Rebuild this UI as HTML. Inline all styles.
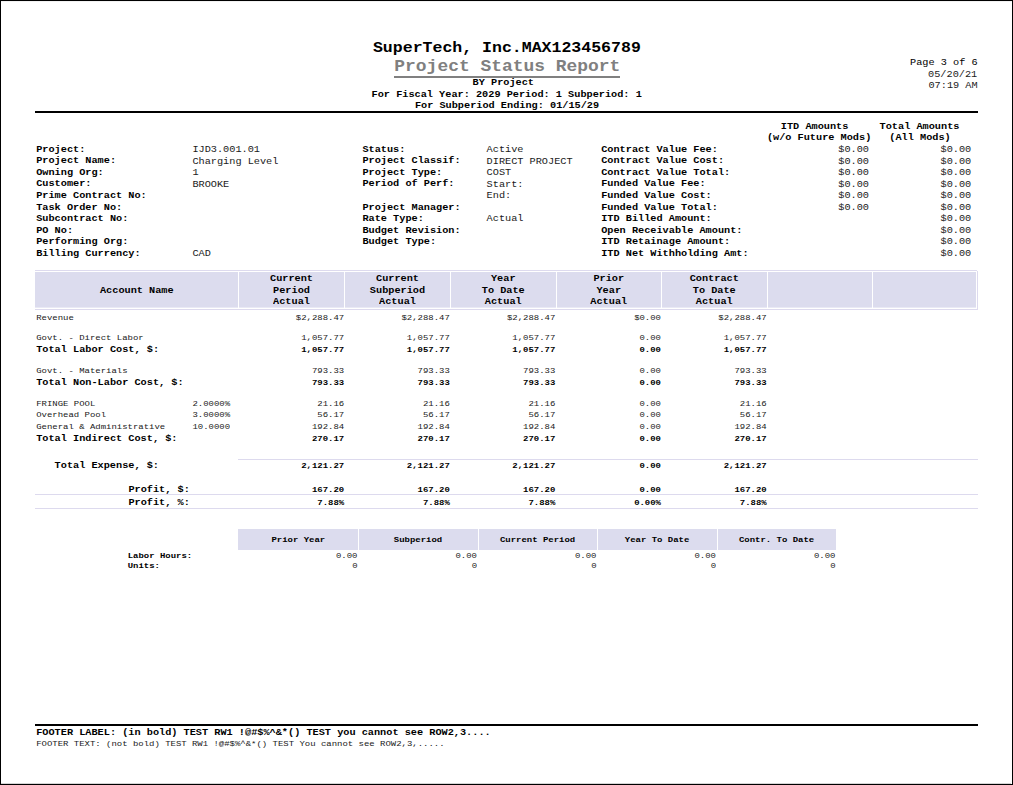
<!DOCTYPE html>
<html><head><meta charset="utf-8"><title>Project Status Report</title>
<style>
html,body{margin:0;padding:0;background:#fff;}
body{width:1013px;height:785px;position:relative;overflow:hidden;font-family:"Liberation Mono",monospace;color:#000;}
#frame{position:absolute;left:0;top:0;width:1011px;height:783px;border:1px solid #000;}
.t{position:absolute;white-space:pre;line-height:12px;height:12px;transform:scaleY(0.87);}
.b{position:absolute;}
</style></head><body>
<div id="frame"></div>
<div class="b" style="left:1px;top:1px;width:1011px;height:1px;background:#f2f2f2"></div>
<div class="b" style="left:1px;top:783px;width:1010px;height:1px;background:#d4d4d4"></div>
<div class="t" style="top:42px;font-size:16.55px;transform-origin:50% 10px;font-weight:bold;left:306.90px;width:400px;text-align:center;">SuperTech, Inc.MAX123456789</div>
<div class="t" style="top:60px;font-size:17.93px;transform-origin:50% 11px;font-weight:bold;color:#808080;left:307.30px;width:400px;text-align:center;">Project Status Report</div>
<div class="b" style="left:394px;top:76px;width:226px;height:2px;background:#808080"></div>
<div class="t" style="top:76px;font-size:10.24px;transform-origin:50% 9px;font-weight:bold;left:303.30px;width:400px;text-align:center;">BY Project</div>
<div class="t" style="top:88px;font-size:10.24px;transform-origin:50% 9px;font-weight:bold;left:306.70px;width:400px;text-align:center;">For Fiscal Year: 2029 Period: 1 Subperiod: 1</div>
<div class="t" style="top:99px;font-size:10.24px;transform-origin:50% 9px;font-weight:bold;left:307.00px;width:400px;text-align:center;">For Subperiod Ending: 01/15/29</div>
<div class="t" style="top:56px;font-size:10.24px;transform-origin:50% 9px;color:#000;right:35.40px;">Page 3 of 6</div>
<div class="t" style="top:68px;font-size:10.24px;transform-origin:50% 9px;color:#1a1a1a;right:35.80px;">05/20/21</div>
<div class="t" style="top:79px;font-size:10.24px;transform-origin:50% 9px;color:#1a1a1a;right:35.40px;">07:19 AM</div>
<div class="b" style="left:35px;top:111px;width:943px;height:2px;background:#000"></div>
<div class="b" style="left:35px;top:724px;width:943px;height:2px;background:#000"></div>
<div class="t" style="top:143px;font-size:10.24px;transform-origin:50% 9px;font-weight:bold;left:36.20px;">Project:</div>
<div class="t" style="top:154px;font-size:10.24px;transform-origin:50% 9px;font-weight:bold;left:36.20px;">Project Name:</div>
<div class="t" style="top:166px;font-size:10.24px;transform-origin:50% 9px;font-weight:bold;left:36.20px;">Owning Org:</div>
<div class="t" style="top:177px;font-size:10.24px;transform-origin:50% 9px;font-weight:bold;left:36.20px;">Customer:</div>
<div class="t" style="top:189px;font-size:10.24px;transform-origin:50% 9px;font-weight:bold;left:36.20px;">Prime Contract No:</div>
<div class="t" style="top:201px;font-size:10.24px;transform-origin:50% 9px;font-weight:bold;left:36.20px;">Task Order No:</div>
<div class="t" style="top:212px;font-size:10.24px;transform-origin:50% 9px;font-weight:bold;left:36.20px;">Subcontract No:</div>
<div class="t" style="top:224px;font-size:10.24px;transform-origin:50% 9px;font-weight:bold;left:36.20px;">PO No:</div>
<div class="t" style="top:235px;font-size:10.24px;transform-origin:50% 9px;font-weight:bold;left:36.20px;">Performing Org:</div>
<div class="t" style="top:247px;font-size:10.24px;transform-origin:50% 9px;font-weight:bold;left:36.20px;">Billing Currency:</div>
<div class="t" style="top:143px;font-size:10.24px;transform-origin:50% 9px;color:#1a1a1a;left:192.40px;">IJD3.001.01</div>
<div class="t" style="top:155px;font-size:10.24px;transform-origin:50% 9px;color:#1a1a1a;left:192.40px;">Charging Level</div>
<div class="t" style="top:166px;font-size:10.24px;transform-origin:50% 9px;color:#1a1a1a;left:192.40px;">1</div>
<div class="t" style="top:178px;font-size:10.24px;transform-origin:50% 9px;color:#1a1a1a;left:192.40px;">BROOKE</div>
<div class="t" style="top:247px;font-size:10.24px;transform-origin:50% 9px;color:#1a1a1a;left:192.40px;">CAD</div>
<div class="t" style="top:143px;font-size:10.24px;transform-origin:50% 9px;font-weight:bold;left:362.40px;">Status:</div>
<div class="t" style="top:154px;font-size:10.24px;transform-origin:50% 9px;font-weight:bold;left:362.40px;">Project Classif:</div>
<div class="t" style="top:166px;font-size:10.24px;transform-origin:50% 9px;font-weight:bold;left:362.40px;">Project Type:</div>
<div class="t" style="top:177px;font-size:10.24px;transform-origin:50% 9px;font-weight:bold;left:362.40px;">Period of Perf:</div>
<div class="t" style="top:201px;font-size:10.24px;transform-origin:50% 9px;font-weight:bold;left:362.40px;">Project Manager:</div>
<div class="t" style="top:212px;font-size:10.24px;transform-origin:50% 9px;font-weight:bold;left:362.40px;">Rate Type:</div>
<div class="t" style="top:224px;font-size:10.24px;transform-origin:50% 9px;font-weight:bold;left:362.40px;">Budget Revision:</div>
<div class="t" style="top:235px;font-size:10.24px;transform-origin:50% 9px;font-weight:bold;left:362.40px;">Budget Type:</div>
<div class="t" style="top:143px;font-size:10.24px;transform-origin:50% 9px;color:#1a1a1a;left:486.60px;">Active</div>
<div class="t" style="top:155px;font-size:10.24px;transform-origin:50% 9px;color:#1a1a1a;left:486.60px;">DIRECT PROJECT</div>
<div class="t" style="top:166px;font-size:10.24px;transform-origin:50% 9px;color:#1a1a1a;left:486.60px;">COST</div>
<div class="t" style="top:178px;font-size:10.24px;transform-origin:50% 9px;color:#1a1a1a;left:486.60px;">Start:</div>
<div class="t" style="top:189px;font-size:10.24px;transform-origin:50% 9px;color:#1a1a1a;left:486.60px;">End:</div>
<div class="t" style="top:212px;font-size:10.24px;transform-origin:50% 9px;color:#1a1a1a;left:486.60px;">Actual</div>
<div class="t" style="top:143px;font-size:10.24px;transform-origin:50% 9px;font-weight:bold;left:601.20px;">Contract Value Fee:</div>
<div class="t" style="top:154px;font-size:10.24px;transform-origin:50% 9px;font-weight:bold;left:601.20px;">Contract Value Cost:</div>
<div class="t" style="top:166px;font-size:10.24px;transform-origin:50% 9px;font-weight:bold;left:601.20px;">Contract Value Total:</div>
<div class="t" style="top:177px;font-size:10.24px;transform-origin:50% 9px;font-weight:bold;left:601.20px;">Funded Value Fee:</div>
<div class="t" style="top:189px;font-size:10.24px;transform-origin:50% 9px;font-weight:bold;left:601.20px;">Funded Value Cost:</div>
<div class="t" style="top:201px;font-size:10.24px;transform-origin:50% 9px;font-weight:bold;left:601.20px;">Funded Value Total:</div>
<div class="t" style="top:212px;font-size:10.24px;transform-origin:50% 9px;font-weight:bold;left:601.20px;">ITD Billed Amount:</div>
<div class="t" style="top:224px;font-size:10.24px;transform-origin:50% 9px;font-weight:bold;left:601.20px;">Open Receivable Amount:</div>
<div class="t" style="top:235px;font-size:10.24px;transform-origin:50% 9px;font-weight:bold;left:601.20px;">ITD Retainage Amount:</div>
<div class="t" style="top:247px;font-size:10.24px;transform-origin:50% 9px;font-weight:bold;left:601.20px;">ITD Net Withholding Amt:</div>
<div class="t" style="top:143px;font-size:10.24px;transform-origin:50% 9px;color:#1a1a1a;right:144.00px;">$0.00</div>
<div class="t" style="top:155px;font-size:10.24px;transform-origin:50% 9px;color:#1a1a1a;right:144.00px;">$0.00</div>
<div class="t" style="top:166px;font-size:10.24px;transform-origin:50% 9px;color:#1a1a1a;right:144.00px;">$0.00</div>
<div class="t" style="top:178px;font-size:10.24px;transform-origin:50% 9px;color:#1a1a1a;right:144.00px;">$0.00</div>
<div class="t" style="top:189px;font-size:10.24px;transform-origin:50% 9px;color:#1a1a1a;right:144.00px;">$0.00</div>
<div class="t" style="top:201px;font-size:10.24px;transform-origin:50% 9px;color:#1a1a1a;right:144.00px;">$0.00</div>
<div class="t" style="top:143px;font-size:10.24px;transform-origin:50% 9px;color:#1a1a1a;right:41.80px;">$0.00</div>
<div class="t" style="top:155px;font-size:10.24px;transform-origin:50% 9px;color:#1a1a1a;right:41.80px;">$0.00</div>
<div class="t" style="top:166px;font-size:10.24px;transform-origin:50% 9px;color:#1a1a1a;right:41.80px;">$0.00</div>
<div class="t" style="top:178px;font-size:10.24px;transform-origin:50% 9px;color:#1a1a1a;right:41.80px;">$0.00</div>
<div class="t" style="top:189px;font-size:10.24px;transform-origin:50% 9px;color:#1a1a1a;right:41.80px;">$0.00</div>
<div class="t" style="top:201px;font-size:10.24px;transform-origin:50% 9px;color:#1a1a1a;right:41.80px;">$0.00</div>
<div class="t" style="top:212px;font-size:10.24px;transform-origin:50% 9px;color:#1a1a1a;right:41.80px;">$0.00</div>
<div class="t" style="top:224px;font-size:10.24px;transform-origin:50% 9px;color:#1a1a1a;right:41.80px;">$0.00</div>
<div class="t" style="top:235px;font-size:10.24px;transform-origin:50% 9px;color:#1a1a1a;right:41.80px;">$0.00</div>
<div class="t" style="top:247px;font-size:10.24px;transform-origin:50% 9px;color:#1a1a1a;right:41.80px;">$0.00</div>
<div class="t" style="top:120px;font-size:10.24px;transform-origin:50% 9px;font-weight:bold;left:614.60px;width:400px;text-align:center;">ITD Amounts</div>
<div class="t" style="top:131px;font-size:10.24px;transform-origin:50% 9px;font-weight:bold;left:619.10px;width:400px;text-align:center;">(w/o Future Mods)</div>
<div class="t" style="top:120px;font-size:10.24px;transform-origin:50% 9px;font-weight:bold;left:719.50px;width:400px;text-align:center;">Total Amounts</div>
<div class="t" style="top:131px;font-size:10.24px;transform-origin:50% 9px;font-weight:bold;left:720.00px;width:400px;text-align:center;">(All Mods)</div>
<div class="b" style="left:35px;top:270px;width:942px;height:1px;background:#dddaee"></div>
<div class="b" style="left:35px;top:309px;width:943px;height:1px;background:#dddaee"></div>
<div class="b" style="left:977px;top:271px;width:1px;height:38px;background:#dddaee"></div>
<div class="b" style="left:35px;top:272px;width:203px;height:35px;background:#dcdcee"></div>
<div class="b" style="left:35px;top:307px;width:203px;height:1px;background:#e9e9f5"></div>
<div class="b" style="left:239px;top:272px;width:105px;height:35px;background:#dcdcee"></div>
<div class="b" style="left:239px;top:307px;width:105px;height:1px;background:#e9e9f5"></div>
<div class="b" style="left:345px;top:272px;width:105px;height:35px;background:#dcdcee"></div>
<div class="b" style="left:345px;top:307px;width:105px;height:1px;background:#e9e9f5"></div>
<div class="b" style="left:451px;top:272px;width:104.5px;height:35px;background:#dcdcee"></div>
<div class="b" style="left:451px;top:307px;width:104.5px;height:1px;background:#e9e9f5"></div>
<div class="b" style="left:556.5px;top:272px;width:104.5px;height:35px;background:#dcdcee"></div>
<div class="b" style="left:556.5px;top:307px;width:104.5px;height:1px;background:#e9e9f5"></div>
<div class="b" style="left:662px;top:272px;width:104.5px;height:35px;background:#dcdcee"></div>
<div class="b" style="left:662px;top:307px;width:104.5px;height:1px;background:#e9e9f5"></div>
<div class="b" style="left:767.5px;top:272px;width:104.5px;height:35px;background:#dcdcee"></div>
<div class="b" style="left:767.5px;top:307px;width:104.5px;height:1px;background:#e9e9f5"></div>
<div class="b" style="left:873px;top:272px;width:103px;height:35px;background:#dcdcee"></div>
<div class="b" style="left:873px;top:307px;width:103px;height:1px;background:#e9e9f5"></div>
<div class="t" style="top:284px;font-size:10.24px;transform-origin:50% 9px;font-weight:bold;left:-63.20px;width:400px;text-align:center;">Account Name</div>
<div class="t" style="top:272px;font-size:10.24px;transform-origin:50% 9px;font-weight:bold;left:91.50px;width:400px;text-align:center;">Current</div>
<div class="t" style="top:284px;font-size:10.24px;transform-origin:50% 9px;font-weight:bold;left:91.50px;width:400px;text-align:center;">Period</div>
<div class="t" style="top:295px;font-size:10.24px;transform-origin:50% 9px;font-weight:bold;left:91.50px;width:400px;text-align:center;">Actual</div>
<div class="t" style="top:272px;font-size:10.24px;transform-origin:50% 9px;font-weight:bold;left:197.50px;width:400px;text-align:center;">Current</div>
<div class="t" style="top:284px;font-size:10.24px;transform-origin:50% 9px;font-weight:bold;left:197.50px;width:400px;text-align:center;">Subperiod</div>
<div class="t" style="top:295px;font-size:10.24px;transform-origin:50% 9px;font-weight:bold;left:197.50px;width:400px;text-align:center;">Actual</div>
<div class="t" style="top:272px;font-size:10.24px;transform-origin:50% 9px;font-weight:bold;left:303.25px;width:400px;text-align:center;">Year</div>
<div class="t" style="top:284px;font-size:10.24px;transform-origin:50% 9px;font-weight:bold;left:303.25px;width:400px;text-align:center;">To Date</div>
<div class="t" style="top:295px;font-size:10.24px;transform-origin:50% 9px;font-weight:bold;left:303.25px;width:400px;text-align:center;">Actual</div>
<div class="t" style="top:272px;font-size:10.24px;transform-origin:50% 9px;font-weight:bold;left:408.75px;width:400px;text-align:center;">Prior</div>
<div class="t" style="top:284px;font-size:10.24px;transform-origin:50% 9px;font-weight:bold;left:408.75px;width:400px;text-align:center;">Year</div>
<div class="t" style="top:295px;font-size:10.24px;transform-origin:50% 9px;font-weight:bold;left:408.75px;width:400px;text-align:center;">Actual</div>
<div class="t" style="top:272px;font-size:10.24px;transform-origin:50% 9px;font-weight:bold;left:514.25px;width:400px;text-align:center;">Contract</div>
<div class="t" style="top:284px;font-size:10.24px;transform-origin:50% 9px;font-weight:bold;left:514.25px;width:400px;text-align:center;">To Date</div>
<div class="t" style="top:295px;font-size:10.24px;transform-origin:50% 9px;font-weight:bold;left:514.25px;width:400px;text-align:center;">Actual</div>
<div class="t" style="top:312px;font-size:8.96px;transform-origin:50% 8px;color:#1a1a1a;left:36.20px;">Revenue</div>
<div class="t" style="top:312px;font-size:8.96px;transform-origin:50% 8px;color:#1a1a1a;right:668.80px;">$2,288.47</div>
<div class="t" style="top:312px;font-size:8.96px;transform-origin:50% 8px;color:#1a1a1a;right:563.20px;">$2,288.47</div>
<div class="t" style="top:312px;font-size:8.96px;transform-origin:50% 8px;color:#1a1a1a;right:457.70px;">$2,288.47</div>
<div class="t" style="top:312px;font-size:8.96px;transform-origin:50% 8px;color:#1a1a1a;right:352.00px;">$0.00</div>
<div class="t" style="top:312px;font-size:8.96px;transform-origin:50% 8px;color:#1a1a1a;right:246.30px;">$2,288.47</div>
<div class="t" style="top:332px;font-size:8.96px;transform-origin:50% 8px;color:#1a1a1a;left:36.20px;">Govt. - Direct Labor</div>
<div class="t" style="top:332px;font-size:8.96px;transform-origin:50% 8px;color:#1a1a1a;right:668.80px;">1,057.77</div>
<div class="t" style="top:332px;font-size:8.96px;transform-origin:50% 8px;color:#1a1a1a;right:563.20px;">1,057.77</div>
<div class="t" style="top:332px;font-size:8.96px;transform-origin:50% 8px;color:#1a1a1a;right:457.70px;">1,057.77</div>
<div class="t" style="top:332px;font-size:8.96px;transform-origin:50% 8px;color:#1a1a1a;right:352.00px;">0.00</div>
<div class="t" style="top:332px;font-size:8.96px;transform-origin:50% 8px;color:#1a1a1a;right:246.30px;">1,057.77</div>
<div class="t" style="top:343px;font-size:10.24px;transform-origin:50% 9px;font-weight:bold;left:36.20px;">Total Labor Cost, $:</div>
<div class="t" style="top:344px;font-size:8.96px;transform-origin:50% 8px;font-weight:bold;right:668.80px;">1,057.77</div>
<div class="t" style="top:344px;font-size:8.96px;transform-origin:50% 8px;font-weight:bold;right:563.20px;">1,057.77</div>
<div class="t" style="top:344px;font-size:8.96px;transform-origin:50% 8px;font-weight:bold;right:457.70px;">1,057.77</div>
<div class="t" style="top:344px;font-size:8.96px;transform-origin:50% 8px;font-weight:bold;right:352.00px;">0.00</div>
<div class="t" style="top:344px;font-size:8.96px;transform-origin:50% 8px;font-weight:bold;right:246.30px;">1,057.77</div>
<div class="t" style="top:365px;font-size:8.96px;transform-origin:50% 8px;color:#1a1a1a;left:36.20px;">Govt. - Materials</div>
<div class="t" style="top:365px;font-size:8.96px;transform-origin:50% 8px;color:#1a1a1a;right:668.80px;">793.33</div>
<div class="t" style="top:365px;font-size:8.96px;transform-origin:50% 8px;color:#1a1a1a;right:563.20px;">793.33</div>
<div class="t" style="top:365px;font-size:8.96px;transform-origin:50% 8px;color:#1a1a1a;right:457.70px;">793.33</div>
<div class="t" style="top:365px;font-size:8.96px;transform-origin:50% 8px;color:#1a1a1a;right:352.00px;">0.00</div>
<div class="t" style="top:365px;font-size:8.96px;transform-origin:50% 8px;color:#1a1a1a;right:246.30px;">793.33</div>
<div class="t" style="top:376px;font-size:10.24px;transform-origin:50% 9px;font-weight:bold;left:36.20px;">Total Non-Labor Cost, $:</div>
<div class="t" style="top:377px;font-size:8.96px;transform-origin:50% 8px;font-weight:bold;right:668.80px;">793.33</div>
<div class="t" style="top:377px;font-size:8.96px;transform-origin:50% 8px;font-weight:bold;right:563.20px;">793.33</div>
<div class="t" style="top:377px;font-size:8.96px;transform-origin:50% 8px;font-weight:bold;right:457.70px;">793.33</div>
<div class="t" style="top:377px;font-size:8.96px;transform-origin:50% 8px;font-weight:bold;right:352.00px;">0.00</div>
<div class="t" style="top:377px;font-size:8.96px;transform-origin:50% 8px;font-weight:bold;right:246.30px;">793.33</div>
<div class="t" style="top:398px;font-size:8.96px;transform-origin:50% 8px;color:#1a1a1a;left:36.20px;">FRINGE POOL</div>
<div class="t" style="top:398px;font-size:8.96px;transform-origin:50% 8px;color:#1a1a1a;left:192.40px;">2.0000%</div>
<div class="t" style="top:398px;font-size:8.96px;transform-origin:50% 8px;color:#1a1a1a;right:668.80px;">21.16</div>
<div class="t" style="top:398px;font-size:8.96px;transform-origin:50% 8px;color:#1a1a1a;right:563.20px;">21.16</div>
<div class="t" style="top:398px;font-size:8.96px;transform-origin:50% 8px;color:#1a1a1a;right:457.70px;">21.16</div>
<div class="t" style="top:398px;font-size:8.96px;transform-origin:50% 8px;color:#1a1a1a;right:352.00px;">0.00</div>
<div class="t" style="top:398px;font-size:8.96px;transform-origin:50% 8px;color:#1a1a1a;right:246.30px;">21.16</div>
<div class="t" style="top:409px;font-size:8.96px;transform-origin:50% 8px;color:#1a1a1a;left:36.20px;">Overhead Pool</div>
<div class="t" style="top:409px;font-size:8.96px;transform-origin:50% 8px;color:#1a1a1a;left:192.40px;">3.0000%</div>
<div class="t" style="top:409px;font-size:8.96px;transform-origin:50% 8px;color:#1a1a1a;right:668.80px;">56.17</div>
<div class="t" style="top:409px;font-size:8.96px;transform-origin:50% 8px;color:#1a1a1a;right:563.20px;">56.17</div>
<div class="t" style="top:409px;font-size:8.96px;transform-origin:50% 8px;color:#1a1a1a;right:457.70px;">56.17</div>
<div class="t" style="top:409px;font-size:8.96px;transform-origin:50% 8px;color:#1a1a1a;right:352.00px;">0.00</div>
<div class="t" style="top:409px;font-size:8.96px;transform-origin:50% 8px;color:#1a1a1a;right:246.30px;">56.17</div>
<div class="t" style="top:421px;font-size:8.96px;transform-origin:50% 8px;color:#1a1a1a;left:36.20px;">General &amp; Administrative</div>
<div class="t" style="top:421px;font-size:8.96px;transform-origin:50% 8px;color:#1a1a1a;left:192.40px;">10.0000</div>
<div class="t" style="top:421px;font-size:8.96px;transform-origin:50% 8px;color:#1a1a1a;right:668.80px;">192.84</div>
<div class="t" style="top:421px;font-size:8.96px;transform-origin:50% 8px;color:#1a1a1a;right:563.20px;">192.84</div>
<div class="t" style="top:421px;font-size:8.96px;transform-origin:50% 8px;color:#1a1a1a;right:457.70px;">192.84</div>
<div class="t" style="top:421px;font-size:8.96px;transform-origin:50% 8px;color:#1a1a1a;right:352.00px;">0.00</div>
<div class="t" style="top:421px;font-size:8.96px;transform-origin:50% 8px;color:#1a1a1a;right:246.30px;">192.84</div>
<div class="t" style="top:432px;font-size:10.24px;transform-origin:50% 9px;font-weight:bold;left:36.20px;">Total Indirect Cost, $:</div>
<div class="t" style="top:433px;font-size:8.96px;transform-origin:50% 8px;font-weight:bold;right:668.80px;">270.17</div>
<div class="t" style="top:433px;font-size:8.96px;transform-origin:50% 8px;font-weight:bold;right:563.20px;">270.17</div>
<div class="t" style="top:433px;font-size:8.96px;transform-origin:50% 8px;font-weight:bold;right:457.70px;">270.17</div>
<div class="t" style="top:433px;font-size:8.96px;transform-origin:50% 8px;font-weight:bold;right:352.00px;">0.00</div>
<div class="t" style="top:433px;font-size:8.96px;transform-origin:50% 8px;font-weight:bold;right:246.30px;">270.17</div>
<div class="b" style="left:238px;top:459px;width:740px;height:1px;background:#dddaee"></div>
<div class="t" style="top:459px;font-size:10.24px;transform-origin:50% 9px;font-weight:bold;left:54.60px;">Total Expense, $:</div>
<div class="t" style="top:460px;font-size:8.96px;transform-origin:50% 8px;font-weight:bold;right:668.80px;">2,121.27</div>
<div class="t" style="top:460px;font-size:8.96px;transform-origin:50% 8px;font-weight:bold;right:563.20px;">2,121.27</div>
<div class="t" style="top:460px;font-size:8.96px;transform-origin:50% 8px;font-weight:bold;right:457.70px;">2,121.27</div>
<div class="t" style="top:460px;font-size:8.96px;transform-origin:50% 8px;font-weight:bold;right:352.00px;">0.00</div>
<div class="t" style="top:460px;font-size:8.96px;transform-origin:50% 8px;font-weight:bold;right:246.30px;">2,121.27</div>
<div class="t" style="top:483px;font-size:10.24px;transform-origin:50% 9px;font-weight:bold;left:128.40px;">Profit, $:</div>
<div class="t" style="top:484px;font-size:8.96px;transform-origin:50% 8px;font-weight:bold;right:668.80px;">167.20</div>
<div class="t" style="top:484px;font-size:8.96px;transform-origin:50% 8px;font-weight:bold;right:563.20px;">167.20</div>
<div class="t" style="top:484px;font-size:8.96px;transform-origin:50% 8px;font-weight:bold;right:457.70px;">167.20</div>
<div class="t" style="top:484px;font-size:8.96px;transform-origin:50% 8px;font-weight:bold;right:352.00px;">0.00</div>
<div class="t" style="top:484px;font-size:8.96px;transform-origin:50% 8px;font-weight:bold;right:246.30px;">167.20</div>
<div class="b" style="left:35px;top:494px;width:943px;height:1px;background:#dddaee"></div>
<div class="t" style="top:496px;font-size:10.24px;transform-origin:50% 9px;font-weight:bold;left:128.40px;">Profit, %:</div>
<div class="t" style="top:497px;font-size:8.96px;transform-origin:50% 8px;font-weight:bold;right:668.80px;">7.88%</div>
<div class="t" style="top:497px;font-size:8.96px;transform-origin:50% 8px;font-weight:bold;right:563.20px;">7.88%</div>
<div class="t" style="top:497px;font-size:8.96px;transform-origin:50% 8px;font-weight:bold;right:457.70px;">7.88%</div>
<div class="t" style="top:497px;font-size:8.96px;transform-origin:50% 8px;font-weight:bold;right:352.00px;">0.00%</div>
<div class="t" style="top:497px;font-size:8.96px;transform-origin:50% 8px;font-weight:bold;right:246.30px;">7.88%</div>
<div class="b" style="left:35px;top:508px;width:943px;height:1px;background:#dddaee"></div>
<div class="b" style="left:238px;top:529px;width:120px;height:21px;background:#dcdcee"></div>
<div class="t" style="top:534px;font-size:8.96px;transform-origin:50% 8px;font-weight:bold;left:98.30px;width:400px;text-align:center;">Prior Year</div>
<div class="t" style="top:550px;font-size:8.96px;transform-origin:50% 8px;color:#1a1a1a;right:655.50px;">0.00</div>
<div class="t" style="top:560px;font-size:8.96px;transform-origin:50% 8px;color:#1a1a1a;right:655.50px;">0</div>
<div class="b" style="left:359px;top:529px;width:118.5px;height:21px;background:#dcdcee"></div>
<div class="t" style="top:534px;font-size:8.96px;transform-origin:50% 8px;font-weight:bold;left:218.05px;width:400px;text-align:center;">Subperiod</div>
<div class="t" style="top:550px;font-size:8.96px;transform-origin:50% 8px;color:#1a1a1a;right:536.00px;">0.00</div>
<div class="t" style="top:560px;font-size:8.96px;transform-origin:50% 8px;color:#1a1a1a;right:536.00px;">0</div>
<div class="b" style="left:478.5px;top:529px;width:118.5px;height:21px;background:#dcdcee"></div>
<div class="t" style="top:534px;font-size:8.96px;transform-origin:50% 8px;font-weight:bold;left:337.55px;width:400px;text-align:center;">Current Period</div>
<div class="t" style="top:550px;font-size:8.96px;transform-origin:50% 8px;color:#1a1a1a;right:416.50px;">0.00</div>
<div class="t" style="top:560px;font-size:8.96px;transform-origin:50% 8px;color:#1a1a1a;right:416.50px;">0</div>
<div class="b" style="left:598px;top:529px;width:118.5px;height:21px;background:#dcdcee"></div>
<div class="t" style="top:534px;font-size:8.96px;transform-origin:50% 8px;font-weight:bold;left:457.05px;width:400px;text-align:center;">Year To Date</div>
<div class="t" style="top:550px;font-size:8.96px;transform-origin:50% 8px;color:#1a1a1a;right:297.00px;">0.00</div>
<div class="t" style="top:560px;font-size:8.96px;transform-origin:50% 8px;color:#1a1a1a;right:297.00px;">0</div>
<div class="b" style="left:717.5px;top:529px;width:118.5px;height:21px;background:#dcdcee"></div>
<div class="t" style="top:534px;font-size:8.96px;transform-origin:50% 8px;font-weight:bold;left:576.55px;width:400px;text-align:center;">Contr. To Date</div>
<div class="t" style="top:550px;font-size:8.96px;transform-origin:50% 8px;color:#1a1a1a;right:177.50px;">0.00</div>
<div class="t" style="top:560px;font-size:8.96px;transform-origin:50% 8px;color:#1a1a1a;right:177.50px;">0</div>
<div class="t" style="top:550px;font-size:8.96px;transform-origin:50% 8px;font-weight:bold;left:127.70px;">Labor Hours:</div>
<div class="t" style="top:560px;font-size:8.96px;transform-origin:50% 8px;font-weight:bold;left:127.70px;">Units:</div>
<div class="t" style="top:726px;font-size:10.24px;transform-origin:50% 9px;font-weight:bold;left:36.20px;">FOOTER LABEL: (in bold) TEST RW1 !@#$%^&amp;*() TEST you cannot see ROW2,3....</div>
<div class="t" style="top:738px;font-size:8.96px;transform-origin:50% 8px;color:#1a1a1a;left:36.20px;">FOOTER TEXT: (not bold) TEST RW1 !@#$%^&amp;*() TEST You cannot see ROW2,3,.....</div>
</body></html>
